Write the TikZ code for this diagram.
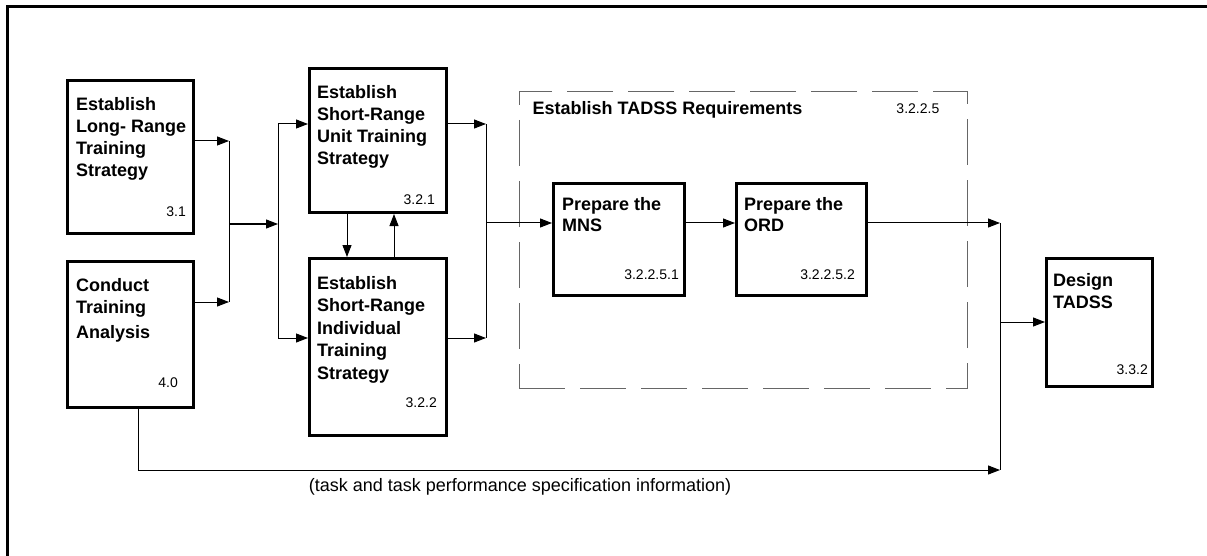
\documentclass[tikz,border=0pt]{standalone}
\usepackage{fontspec}
\setmainfont{Liberation Sans}
\usepackage{tikz}
\usetikzlibrary{arrows.meta}
\definecolor{dashgray}{rgb}{0.4,0.4,0.4}
\tikzstyle{procbox}=[draw,rectangle,line width=3pt,inner sep=0pt]
\tikzstyle{groupbox}=[draw=dashgray,rectangle,line width=1pt,dash pattern=on 46pt off 15pt,inner sep=0pt]
\tikzstyle{ptitle}=[inner sep=0pt,anchor=north west,align=left,font=\bfseries\fontsize{18}{22}\selectfont]
\tikzstyle{pnum}=[inner sep=0pt,anchor=east,font=\fontsize{14}{16}\selectfont]
\tikzstyle{flow}=[line width=1pt,-{Triangle[length=12pt,width=9pt]}]
\tikzstyle{wire}=[line width=1pt]

\begin{document}
\begin{tikzpicture}[x=1pt,y=-1pt]
\useasboundingbox (0,0) rectangle (1207,556);
\draw[line width=3pt] (7,556) -- (7,7) -- (1207,7);

  % process boxes
  \node[procbox,minimum width=126,minimum height=153] (lr) at (130.5,157) {};
  \node[procbox,minimum width=126,minimum height=146] (ta) at (130.5,334.5) {};
  \node[procbox,minimum width=137,minimum height=144] (su) at (378,140.5) {};
  \node[procbox,minimum width=137,minimum height=177] (si) at (378,347) {};
  \node[groupbox,minimum width=448,minimum height=296] (req) at (743,240) {};
  \node[procbox,minimum width=131,minimum height=112] (mns) at (619,239.5) {};
  \node[procbox,minimum width=130,minimum height=112] (ord) at (801.5,239.5) {};
  \node[procbox,minimum width=106,minimum height=128] (des) at (1099.5,322.5) {};

  % titles
  \node[ptitle] (lrT) at ([shift={(10,18)}]lr.north west) {Establish\\Long- Range\\Training\\Strategy};
  \node[ptitle] (taT) at ([shift={(10,18)}]ta.north west) {Conduct\\Training\\[3pt]Analysis};
  \node[ptitle] (suT) at ([shift={(9,18)}]su.north west) {Establish\\Short-Range\\Unit Training\\Strategy};
  \node[ptitle,font=\bfseries\fontsize{18}{22.5}\selectfont] (siT) at ([shift={(9,19)}]si.north west) {Establish\\Short-Range\\Individual\\Training\\Strategy};
  \node[ptitle] (reqT) at ([shift={(14,10)}]req.north west) {Establish TADSS Requirements};
  \node[ptitle,font=\bfseries\fontsize{18}{21}\selectfont] (mnsT) at ([shift={(10,15)}]mns.north west) {Prepare the\\MNS};
  \node[ptitle,font=\bfseries\fontsize{18}{21}\selectfont] (ordT) at ([shift={(9,15)}]ord.north west) {Prepare the\\ORD};
  \node[ptitle] (desT) at ([shift={(8,16)}]des.north west) {Design\\TADSS};

  % numbers
  \node[pnum] (lrN) at ([shift={(-9,-23)}]lr.south east) {3.1};
  \node[pnum] (taN) at ([shift={(-17,-26)}]ta.south east) {4.0};
  \node[pnum] (suN) at ([shift={(-13,-14)}]su.south east) {3.2.1};
  \node[pnum] (siN) at ([shift={(-11,-34)}]si.south east) {3.2.2};
  \node[pnum] (reqN) at ([shift={(-28,17)}]req.north east) {3.2.2.5};
  \node[pnum] (mnsN) at ([shift={(-7,-22)}]mns.south east) {3.2.2.5.1};
  \node[pnum] (ordN) at ([shift={(-13,-22)}]ord.south east) {3.2.2.5.2};
  \node[pnum] (desN) at ([shift={(-6,-18)}]des.south east) {3.3.2};

  % junctions
  \coordinate (j1t) at (229,141);
  \coordinate (j1b) at (229,302);
  \coordinate (j1) at (229,224);
  \coordinate (j2t) at (278,124);
  \coordinate (j2b) at (278,338);
  \coordinate (j3t) at (486,124);
  \coordinate (j3b) at (486,338);
  \coordinate (j3) at (486,223);
  \coordinate (j4t) at (1000,223);
  \coordinate (j4b) at (1000,470);
  \coordinate (j4) at (1000,322);

  \draw[flow] (j1t -| lr.east) -- (j1t);
  \draw[flow] (j1b -| ta.east) -- (j1b);
  \draw[wire] (j1t) -- (j1b);
  \draw[flow] (j1) -- (j1 -| j2t);
  \draw[wire] (j2t) -- (j2b);
  \draw[flow] (j2t) -- (j2t -| su.west);
  \draw[flow] (j2b) -- (j2b -| si.west);

  \draw[flow] ([xshift=-31pt]su.south) -- ([xshift=-31pt]si.north);
  \draw[flow] ([xshift=16pt]si.north) -- ([xshift=16pt]su.south);

  \draw[flow] (j3t -| su.east) -- (j3t);
  \draw[flow] (j3b -| si.east) -- (j3b);
  \draw[wire] (j3t) -- (j3b);
  \draw[flow] (j3) -- (j3 -| mns.west);
  \draw[flow] (j3 -| mns.east) -- (j3 -| ord.west);

  \draw[flow] (j4t -| ord.east) -- (j4t);
  \draw[wire] (j4t) -- (j4b);
  \draw[flow] (j4) -- (j4 -| des.west);
  \draw[flow] ([xshift=7.5pt]ta.south) |- (j4b);

  \node[font=\fontsize{18}{20}\selectfont,inner sep=0pt] (spec) at (520,487) {(task and task performance specification information)};

\end{tikzpicture}
\end{document}
